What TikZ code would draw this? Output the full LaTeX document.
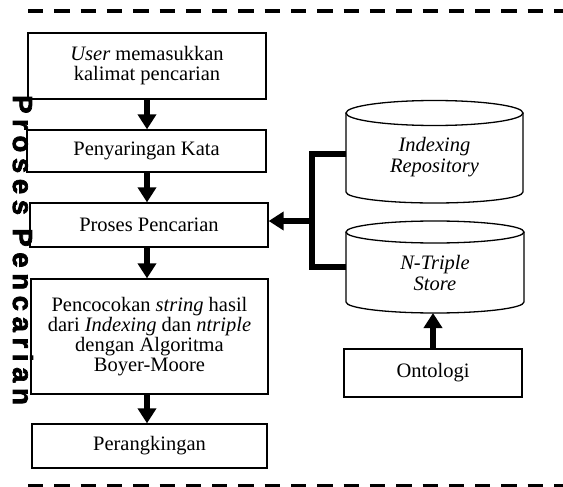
\documentclass[tikz,border=0pt]{standalone}
\usepackage{fontspec}
\setmainfont{Liberation Serif}
\newfontfamily\sidefont[LetterSpace=20.5,FakeBold=2.5]{Liberation Sans Bold}
\usetikzlibrary{arrows.meta}

\begin{document}
\begin{tikzpicture}[x=1pt,y=-1pt,
  procbox/.style={draw, line width=1.3pt, align=center, inner sep=0pt,
    font=\fontsize{20.5}{20}\selectfont},
  dbtext/.style={align=center, inner sep=0pt,
    font=\itshape\fontsize{20.5}{21}\selectfont},
  dbline/.style={line width=1.3pt},
  flow/.style={line width=5.5pt, -{Triangle[length=15pt,width=18pt]}},
  link/.style={line width=5.5pt, line join=miter},
  frame/.style={line width=3.8pt, dash pattern=on 15.3pt off 11pt},
  sidetitle/.style={rotate=-90, anchor=base west, inner sep=0pt,
    font=\sidefont\fontsize{27.5}{27.5}\selectfont}]
\useasboundingbox (0,0) rectangle (563,487);

% dashed frame lines
\coordinate (ftl) at (28,11);
\coordinate (ftr) at (563,11);
\coordinate (fbl) at (28,486);
\coordinate (fbr) at (563,486);
\draw[frame] (ftl) -- (ftr);
\draw[frame] (fbl) -- (fbr);

% process boxes
\node[procbox, minimum width=238, minimum height=66] (b1) at (147,66)
  {\textit{User} memasukkan\\kalimat pencarian};
\node[procbox, minimum width=239, minimum height=42] (b2) at (146.5,151)
  {Penyaringan Kata};
\node[procbox, minimum width=238, minimum height=44] (b3) at (149,225)
  {Proses Pencarian};
\node[procbox, minimum width=237, minimum height=115] (b4) at (149.5,336.5)
  {Pencocokan \textit{string} hasil\\dari \textit{Indexing} dan \textit{ntriple}\\dengan Algoritma\\Boyer-Moore};
\node[procbox, minimum width=235, minimum height=44] (b5) at (149.5,446)
  {Perangkingan};
\node[procbox, minimum width=178, minimum height=48] (onto) at (433,373)
  {Ontologi};

% Indexing Repository cylinder
\draw[dbline] (434.5,113) ellipse [x radius=88.5, y radius=12.5];
\draw[dbline] (346,113) -- (346,192)
  .. controls (346,198.08) and (385.62,203) .. (434.5,203)
  .. controls (483.38,203) and (523,198.08) .. (523,192) -- (523,113);
\node[dbtext] (idx) at (434.5,157) {Indexing\\Repository};

% N-Triple Store cylinder
\draw[dbline] (435,232) ellipse [x radius=89, y radius=11];
\draw[dbline] (346,232) -- (346,302)
  .. controls (346,308.08) and (385.85,313) .. (435,313)
  .. controls (484.15,313) and (524,308.08) .. (524,302) -- (524,232);
\node[dbtext] (nts) at (435,273) {N-Triple\\Store};

% connection points
\coordinate (idxW) at (346,154);
\coordinate (ntsW) at (346,267);
\coordinate (busTop) at (312,154);
\coordinate (busBot) at (312,267);
\coordinate (busMid) at (312,221);
\coordinate (ntsS) at (433,313);

% flow arrows
\draw[flow] (b1.south) -- (b1.south |- b2.north);
\draw[flow] (b1.south |- b2.south) -- (b1.south |- b3.north);
\draw[flow] (b1.south |- b3.south) -- (b1.south |- b4.north);
\draw[flow] (b1.south |- b4.south) -- (b1.south |- b5.north);
\draw[link] (idxW) -- (busTop) -- (busBot) -- (ntsW);
\draw[flow] (busMid) -- (b3.east |- busMid);
\draw[flow] (onto.north) -- (ntsS);

% vertical section title
\node[sidetitle] (side) at (13,95) {Proses Pencarian};
\end{tikzpicture}
\end{document}
